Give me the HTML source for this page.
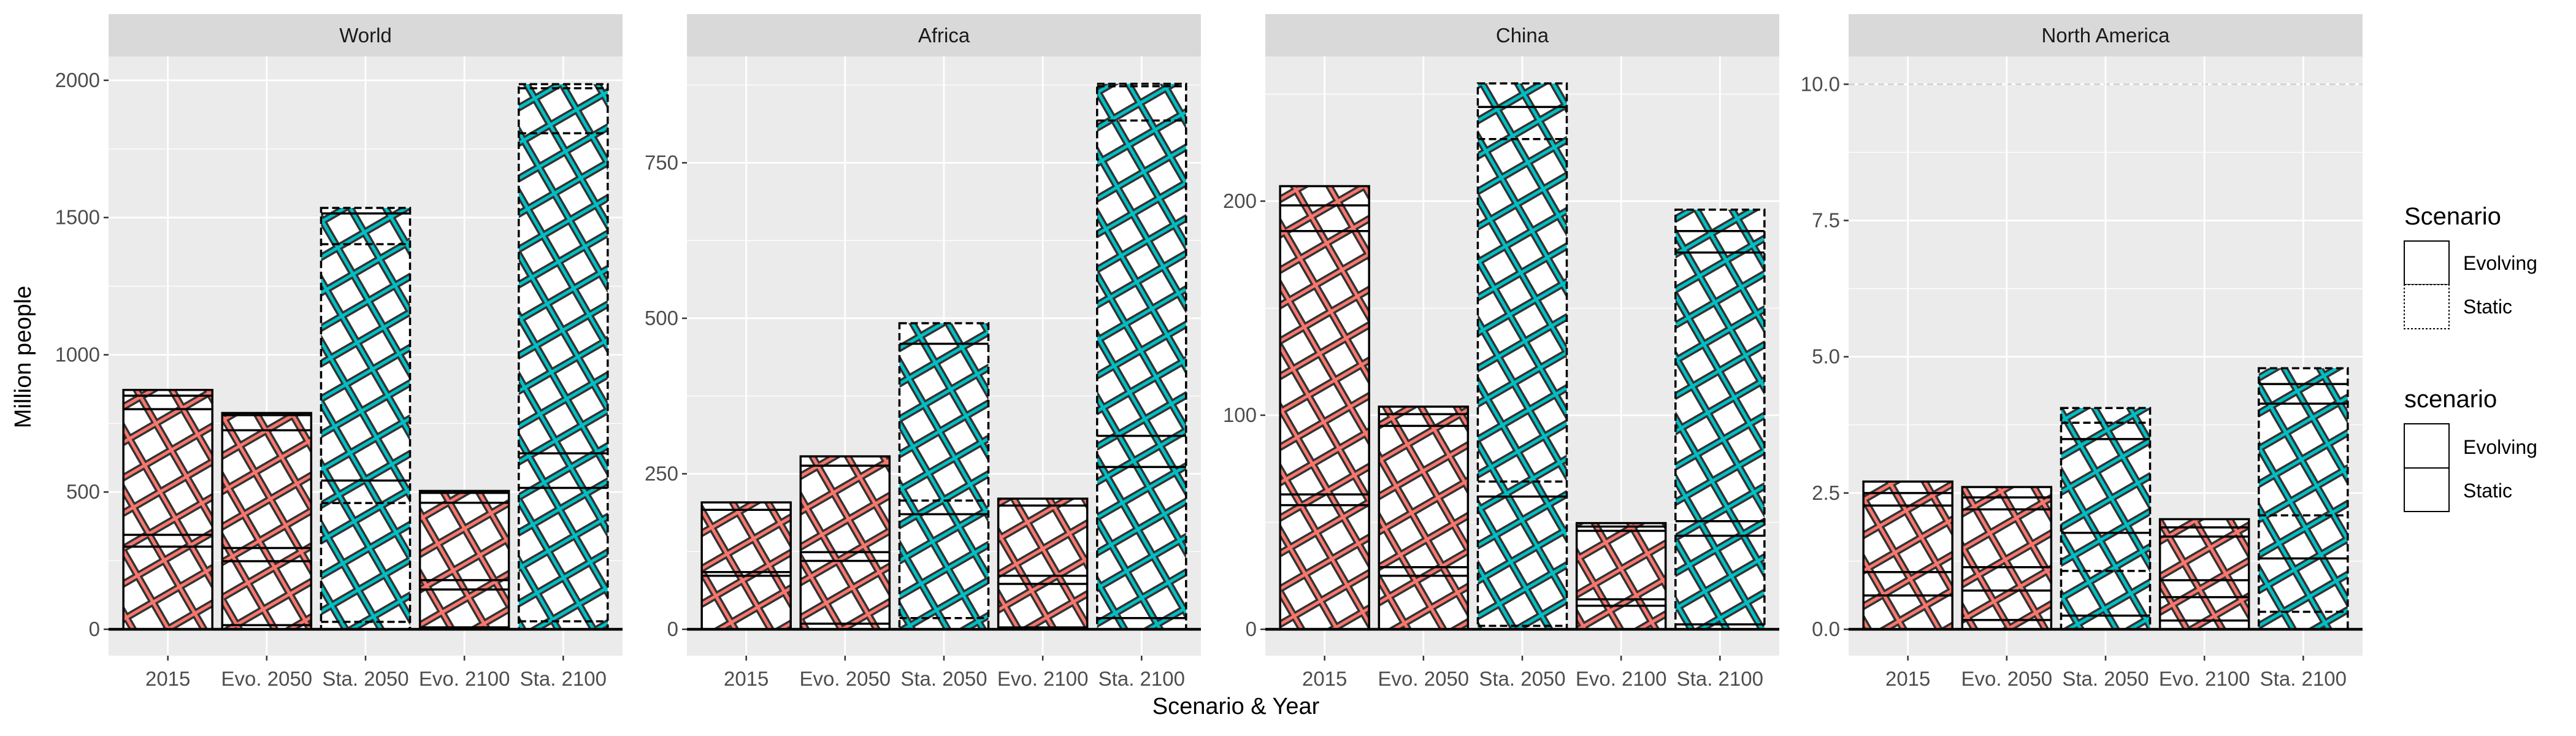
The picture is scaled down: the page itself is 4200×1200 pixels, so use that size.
<!DOCTYPE html>
<html><head><meta charset="utf-8">
<style>
html,body{margin:0;padding:0;background:#fff;}
svg{display:block;font-family:"Liberation Sans",Arial,sans-serif;}
</style></head>
<body>
<svg id="chart" width="4200" height="1200" viewBox="0 0 4200 1200" xmlns="http://www.w3.org/2000/svg">
<defs>
<pattern id="pat-red" patternUnits="userSpaceOnUse" width="50" height="50" patternTransform="rotate(-30)">
<rect width="50" height="50" fill="#fff"/>
<rect x="0" y="19" width="50" height="12" fill="#333"/><rect x="19" y="0" width="12" height="50" fill="#333"/>
<rect x="0" y="22.5" width="50" height="5" fill="#F8766D"/><rect x="22.5" y="0" width="5" height="50" fill="#F8766D"/>
</pattern>
<pattern id="pat-teal" patternUnits="userSpaceOnUse" width="50" height="50" patternTransform="rotate(-30)">
<rect width="50" height="50" fill="#fff"/>
<rect x="0" y="19" width="50" height="12" fill="#333"/><rect x="19" y="0" width="12" height="50" fill="#333"/>
<rect x="0" y="22.5" width="50" height="5" fill="#00BFC4"/><rect x="22.5" y="0" width="5" height="50" fill="#00BFC4"/>
</pattern>
</defs>
<g id="panels"></g>
<text x="0" y="0" transform="translate(50,582) rotate(-90)" text-anchor="middle" font-size="38" fill="#000">Million people</text>
<text x="2015" y="1164" text-anchor="middle" font-size="38" fill="#000">Scenario &amp; Year</text>
<g>
<text x="3920" y="366" font-size="40">Scenario</text>
<rect x="3920" y="393" width="73" height="71" fill="#fff" stroke="#000" stroke-width="2"/>
<rect x="3920" y="464" width="73" height="72" fill="#fff" stroke="#000" stroke-width="2" stroke-dasharray="3,3"/>
<text x="4016" y="440" font-size="32" fill="#000">Evolving</text>
<text x="4016" y="511" font-size="32" fill="#000">Static</text>
</g>
<g>
<text x="3920" y="664" font-size="40">scenario</text>
<rect x="3920" y="691" width="73" height="72" fill="#fff" stroke="#000" stroke-width="2"/>
<rect x="3920" y="763" width="73" height="71" fill="#fff" stroke="#000" stroke-width="2"/>
<text x="4016" y="740" font-size="32" fill="#000">Evolving</text>
<text x="4016" y="811" font-size="32" fill="#000">Static</text>
</g>
</svg>
<script>
const categories = ["2015","Evo. 2050","Sta. 2050","Evo. 2100","Sta. 2100"];
const panelNames = ["World","Africa","China","North America"];
const panelYTop = [2087, 921, 267.6, 10.51];
const worldTicks = [0,500,1000,1500,2000];
const africaTicks = [0,250,500,750];
const chinaTicks = [0,100,200];
const naTicks = [0,2.5,5,7.5,10];
const worldTickLabels = ["0","500","1000","1500","2000"];
const africaTickLabels = ["0","250","500","750"];
const chinaTickLabels = ["0","100","200"];
const naTickLabels = ["0.0","2.5","5.0","7.5","10.0"];
const worldTotals = [872, 788, 1535, 504, 1986];
const africaTotals = [204, 278, 492, 210, 877];
const chinaTotals = [207, 104, 255, 49.6, 196];
const naTotals = [2.71, 2.61, 4.06, 2.02, 4.79];
const worldLines = [[851,802,344,301],[780,725,296,248,15],[1515,1403,542,460,27],[497,461,179,145,7],[1971,1807,641,515,29]];
const worldDash  = [[0,0,0,0],[0,0,0,0,0],[0,1,0,1,1],[0,0,0,0,0],[1,1,0,0,1]];
const africaLines = [[192,92,86],[263,124,110,9],[459,207,185,18],[199,86,73,3],[873,818,311,261,18]];
const africaDash  = [[0,0,0],[0,0,0,0],[0,1,0,1],[0,0,0,0],[1,1,0,0,0]];
const chinaLines = [[198,186,63,58],[100.5,95,29,25],[244,229,69,62,1.6],[48,46,14,11],[186,176,50.5,43.7,2.3]];
const chinaDash  = [[0,0,0,0],[0,0,0,0],[0,1,1,0,1],[0,0,0,0],[0,0,0,0,0]];
const naLines = [[2.50,2.27,1.05,0.62],[2.42,2.20,1.14,0.71,0.17],[3.79,3.49,1.77,1.07,0.25],[1.87,1.70,0.90,0.59,0.16],[4.50,4.14,2.09,1.30,0.32]];
const naDash  = [[0,0,0,0],[0,0,0,0,0],[1,0,0,1,0],[0,0,0,0,0],[0,0,1,0,1]];
const categoryIsStatic = [0,0,1,0,1];

const NS = "http://www.w3.org/2000/svg";
const panelLefts = [177, 1120, 2063, 3014];
const PW = 838, STRIP_TOP = 23, STRIP_BOT = 92, PANEL_BOT = 1069, ZERO = 1026;
const allTicks = [worldTicks, africaTicks, chinaTicks, naTicks];
const allTickLabels = [worldTickLabels, africaTickLabels, chinaTickLabels, naTickLabels];
const allTotals = [worldTotals, africaTotals, chinaTotals, naTotals];
const allLines = [worldLines, africaLines, chinaLines, naLines];
const allDash = [worldDash, africaDash, chinaDash, naDash];

function mk(tag, attrs, parent){ const e=document.createElementNS(NS,tag); for(const k in attrs) e.setAttribute(k,attrs[k]); parent.appendChild(e); return e; }
function yScale(p){ const k=(ZERO-STRIP_BOT)/panelYTop[p]; return v=>ZERO-v*k; }
function xScale(p){ const step=PW/(categories.length+0.2); return i=>panelLefts[p]+step*(0.6+i); }

const root = document.getElementById('panels');
for(let p=0;p<panelNames.length;p++){
  const y=yScale(p), x=xScale(p), L=panelLefts[p];
  const step=PW/(categories.length+0.2), bw=step*0.9;
  const g=mk('g',{},root);
  
  
  const strip=mk('rect',{x:L,y:STRIP_TOP,width:PW,height:STRIP_BOT-STRIP_TOP,fill:'#d9d9d9'},g);
  
  
  const st=mk('text',{x:L+PW/2,y:69,'text-anchor':'middle','font-size':33,fill:'#1a1a1a'},g);
  st.textContent=panelNames[p];
  
  
  const bg=mk('rect',{x:L,y:STRIP_BOT,width:PW,height:PANEL_BOT-STRIP_BOT,fill:'#ebebeb'},g);
  
  
  const ticks=allTicks[p];
  const dt=ticks[1]-ticks[0];
  for(let v=ticks[0]-dt/2; v<=panelYTop[p]+1e-9; v+=dt){
    const yy=y(v); if(yy<STRIP_BOT||yy>PANEL_BOT) continue;
    const ml=mk('line',{x1:L,x2:L+PW,y1:yy,y2:yy,stroke:'#fff','stroke-width':1.3},g);
    
    
  }
  ticks.forEach((v,i)=>{
    const yy=y(v);
    const gl=mk('line',{x1:L,x2:L+PW,y1:yy,y2:yy,stroke:'#fff','stroke-width':2.8},g);
    
    
    const tk=mk('line',{x1:L-8,x2:L,y1:yy,y2:yy,stroke:'#333','stroke-width':2.5},g);
    
    
    const tl=mk('text',{x:L-14,y:yy+11,'text-anchor':'end','font-size':33,fill:'#4d4d4d'},g);
    tl.textContent=allTickLabels[p][i];
    
    
  });
  if(p===3){
    const dl=mk('line',{x1:L,x2:L+PW,y1:y(10),y2:y(10),stroke:'#cfcfcf','stroke-width':2.5,'stroke-dasharray':'10,6'},g);
    
    
  }
  categories.forEach((c,i)=>{
    const cx=x(i);
    const vg=mk('line',{x1:cx,x2:cx,y1:STRIP_BOT,y2:PANEL_BOT,stroke:'#fff','stroke-width':2.8},g);
    
    
    const tk=mk('line',{x1:cx,x2:cx,y1:PANEL_BOT,y2:PANEL_BOT+8,stroke:'#333','stroke-width':2.5},g);
    
    
    const tl=mk('text',{x:cx,y:1118,'text-anchor':'middle','font-size':33,fill:'#4d4d4d'},g);
    tl.textContent=c;
    
    
  });
  categories.forEach((c,i)=>{
    const cx=x(i), x0=cx-bw/2, tot=allTotals[p][i], stat=categoryIsStatic[i];
    const bg2=mk('g',{},g);
    
    
    const r=mk('rect',{x:x0,y:y(tot),width:bw,height:y(0)-y(tot),fill:stat?'url(#pat-teal)':'url(#pat-red)',stroke:'#000','stroke-width':3.5},bg2);
    if(stat) r.setAttribute('stroke-dasharray','12,6');
    allLines[p][i].forEach((v,j)=>{
      const ln=mk('line',{x1:x0,x2:x0+bw,y1:y(v),y2:y(v),stroke:'#000','stroke-width':3.5},bg2);
      if(allDash[p][i][j]) ln.setAttribute('stroke-dasharray','12,6');
      
      
    });
  });
  const zl=mk('line',{x1:L,x2:L+PW,y1:y(0),y2:y(0),stroke:'#000','stroke-width':4.5},g);
  
  
}
</script>
</body></html>
